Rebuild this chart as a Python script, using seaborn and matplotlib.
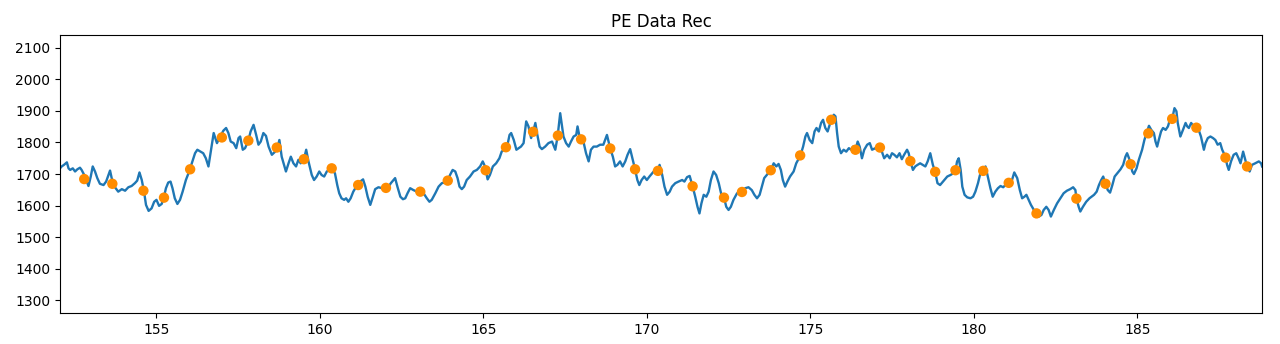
import matplotlib
matplotlib.use("Agg")
import matplotlib.pyplot as plt
import seaborn as sns
import pandas as pd

title = "PE Data Rec"

line_x = [
 152.05,152.10,152.17,152.26,152.31,152.36,152.44,152.51,152.58,152.66,152.71,152.79,152.85,152.92,152.99,153.05,
 153.12,153.19,153.27,153.38,153.46,153.53,153.58,153.63,153.73,153.83,153.94,154.04,154.14,154.24,154.34,154.41,
 154.48,154.55,154.62,154.68,154.76,154.85,154.93,155.00,155.08,155.16,155.23,155.29,155.36,155.43,155.49,155.56,
 155.64,155.72,155.80,155.90,156.00,156.10,156.18,156.25,156.35,156.43,156.51,156.59,
 156.75,156.85,156.95,157.05,157.13,157.20,157.27,157.36,157.44,157.51,157.56,157.64,157.71,157.81,157.88,157.97,
 158.05,158.12,158.19,158.27,158.35,158.43,158.53,158.63,158.70,158.76,158.83,158.90,158.96,159.04,159.11,159.19,
 159.27,159.34,159.41,159.51,159.58,159.65,159.75,159.82,159.90,159.98,160.05,160.13,160.21,160.29,160.36,160.46,
 160.53,160.59,160.66,160.74,160.80,160.87,160.94,161.02,161.10,
 161.23,161.32,161.39,161.46,161.54,161.62,161.69,161.79,161.90,162.02,162.10,162.17,162.25,162.30,162.37,162.46,
 162.54,162.61,162.68,162.76,162.86,162.97,163.07,163.17,163.27,163.35,163.42,163.53,163.63,163.73,163.83,163.91,
 163.98,164.06,164.14,164.21,164.27,164.34,164.41,164.49,164.59,164.70,164.80,164.90,164.98,165.05,165.13,165.20,
 165.29,165.39,165.49,165.56,165.63,
 165.72,165.80,165.85,165.93,166.01,166.08,166.15,166.23,166.31,166.38,166.46,166.52,166.59,166.64,166.72,166.79,
 166.89,166.99,167.10,167.20,167.27,167.35,167.40,167.45,167.53,167.61,167.68,167.76,167.84,167.88,167.94,167.99,
 168.06,168.14,168.22,168.29,168.37,168.47,168.57,168.67,168.78,168.83,168.88,168.96,169.03,169.10,169.18,169.26,
 169.34,169.41,169.49,169.57,169.64,169.71,169.77,169.84,169.92,170.00,170.08,
 170.21,170.34,170.39,170.47,170.54,170.62,170.70,170.77,170.87,170.97,171.08,171.15,171.23,171.31,171.40,171.48,
 171.55,171.61,171.67,171.74,171.82,171.89,171.96,172.04,172.12,172.20,172.27,172.36,172.43,172.50,172.57,172.65,
 172.76,172.91,173.01,173.11,173.21,173.29,173.37,173.45,173.52,173.59,173.67,173.79,173.88,173.96,174.03,174.10,
 174.16,174.23,174.30,174.38,174.49,174.57,
 174.70,174.78,174.85,174.90,174.98,175.06,175.13,175.19,175.26,175.33,175.39,175.46,175.53,175.64,175.72,175.77,
 175.82,175.87,175.94,176.02,176.10,176.18,176.25,176.31,176.38,176.45,176.51,176.58,176.65,176.74,176.82,176.89,
 176.99,177.06,177.13,177.19,177.26,177.35,177.43,177.50,177.57,177.65,177.73,177.80,177.87,177.96,178.01,178.06,
 178.14,178.21,178.28,178.36,178.44,178.52,178.59,178.67,178.75,178.82,178.89,178.97,179.06,
 179.19,179.29,179.37,179.44,179.49,179.54,179.60,179.65,179.72,179.80,179.90,179.98,180.05,180.13,180.19,180.29,
 180.36,180.43,180.51,180.58,180.66,180.74,180.82,180.90,180.97,181.07,181.17,181.24,181.33,181.41,181.48,181.55,
 181.61,181.68,181.75,181.84,181.92,181.99,182.07,182.14,182.22,182.29,182.36,182.45,182.55,182.65,182.75,182.85,
 182.95,183.04,183.11,183.14,183.21,183.26,183.34,183.44,183.54,
 183.68,183.76,183.83,183.90,183.96,184.03,184.10,184.17,184.24,184.31,184.39,184.49,184.57,184.64,184.69,184.75,
 184.80,184.85,184.90,184.98,185.05,185.15,185.22,185.29,185.36,185.43,185.51,185.56,185.61,185.66,185.73,185.79,
 185.87,185.94,186.00,186.07,186.14,186.20,186.24,186.32,186.40,186.48,186.53,186.58,186.65,186.73,186.81,186.88,
 186.95,187.04,187.09,187.16,187.24,187.32,187.39,187.46,187.54,187.60,187.65,187.70,187.75,187.80,187.87,187.95,
 188.03,188.10,188.16,188.24,188.28,188.36,188.44,188.51,188.61,188.72,188.79,188.82,
]

line_y = [
 1718,1724,1729,1737,1718,1713,1718,1708,1715,1720,1713,1697,1681,1662,1692,1724,
 1708,1687,1669,1665,1676,1697,1711,1687,1658,1644,1652,1647,1658,1662,1671,1679,
 1705,1681,1644,1602,1583,1591,1612,1618,1599,1605,1628,1655,1673,1676,1655,1623,
 1605,1618,1644,1681,1708,1740,1766,1777,1771,1766,1750,1724,
 1830,1798,1819,1838,1846,1830,1803,1798,1782,1814,1819,1777,1782,1806,1835,1856,
 1824,1793,1803,1830,1821,1787,1761,1771,1784,1808,1755,1729,1708,1734,1755,1734,
 1724,1745,1734,1747,1777,1740,1697,1681,1692,1708,1697,1692,1708,1713,1718,1702,
 1665,1639,1623,1618,1623,1612,1623,1644,1658,
 1676,1683,1660,1628,1602,1628,1652,1658,1655,1656,1660,1671,1681,1687,1660,1628,
 1620,1623,1639,1655,1649,1644,1644,1639,1623,1612,1618,1639,1660,1671,1673,1679,
 1697,1713,1708,1687,1660,1652,1660,1681,1692,1708,1713,1724,1740,1724,1683,1697,
 1724,1734,1750,1771,1777,
 1784,1824,1830,1808,1777,1782,1787,1798,1867,1851,1814,1834,1862,1830,1787,1779,
 1787,1798,1803,1777,1819,1893,1856,1819,1798,1787,1803,1819,1824,1851,1819,1810,
 1803,1766,1740,1777,1787,1787,1793,1793,1824,1803,1781,1755,1724,1729,1740,1724,
 1740,1761,1779,1745,1715,1681,1665,1681,1692,1681,1692,
 1708,1710,1729,1697,1660,1634,1644,1660,1671,1676,1681,1676,1690,1694,1661,1628,
 1596,1575,1607,1634,1628,1644,1681,1708,1697,1671,1639,1625,1596,1586,1596,1618,
 1639,1643,1655,1658,1649,1634,1623,1634,1660,1687,1697,1712,1734,1724,1732,1713,
 1681,1660,1676,1692,1708,1734,
 1759,1787,1819,1830,1808,1798,1835,1846,1835,1862,1872,1846,1835,1872,1888,1883,
 1830,1787,1766,1777,1771,1782,1777,1787,1777,1803,1787,1750,1777,1793,1798,1777,
 1782,1777,1784,1771,1750,1761,1750,1766,1761,1753,1766,1747,1761,1777,1766,1741,
 1713,1724,1729,1734,1729,1724,1740,1766,1729,1707,1671,1665,1676,
 1692,1697,1702,1712,1740,1750,1713,1660,1634,1626,1623,1628,1644,1671,1697,1710,
 1724,1692,1655,1628,1644,1655,1662,1658,1665,1672,1681,1705,1687,1649,1623,1628,
 1634,1618,1602,1586,1575,1565,1570,1586,1596,1586,1565,1586,1607,1623,1639,1647,
 1652,1658,1649,1622,1596,1581,1596,1612,1623,
 1634,1644,1665,1681,1692,1669,1649,1641,1665,1692,1702,1715,1729,1755,1766,1750,
 1731,1708,1700,1718,1745,1777,1808,1830,1853,1840,1830,1803,1787,1808,1835,1846,
 1840,1851,1872,1875,1909,1899,1862,1819,1840,1862,1851,1846,1862,1851,1847,1840,
 1819,1777,1798,1814,1819,1814,1808,1793,1798,1777,1766,1752,1729,1713,1740,1761,
 1766,1750,1734,1771,1755,1724,1708,1729,1734,1740,1734,1724,
]

dot_x = [152.79,153.65,154.60,155.23,156.03,157.00,157.81,158.68,159.51,160.36,161.17,
         162.02,163.07,163.91,165.07,165.69,166.52,167.28,167.99,168.88,169.64,170.34,
         171.40,172.36,172.91,173.79,174.69,175.64,176.38,177.13,178.06,178.82,179.44,
         180.29,181.07,181.92,183.14,184.03,184.80,185.34,186.07,186.81,187.70,188.36]
dot_y = [1684,1669,1647,1625,1715,1816,1806,1784,1747,1718,1665,
         1656,1644,1679,1712,1785,1834,1822,1810,1781,1715,1710,
         1661,1625,1643,1712,1759,1872,1777,1784,1741,1707,1712,
         1710,1672,1575,1622,1669,1731,1829,1875,1847,1752,1724]

line_df = pd.DataFrame({"t": line_x, "v": line_y})
dot_df = pd.DataFrame({"t": dot_x, "v": dot_y})

fig = plt.figure(figsize=(12.8, 3.44), dpi=100)
ax = fig.add_axes([0.0469, 0.0901, 0.9391, 0.8081])

sns.lineplot(data=line_df, x="t", y="v", ax=ax, sort=False, estimator=None,
             color="#1f77b4", linewidth=1.7)
sns.scatterplot(data=dot_df, x="t", y="v", ax=ax, color="#ff8c00",
                s=56, linewidth=0, edgecolor="none", zorder=3)

ax.set_xlim(line_x[0], line_x[-1])
ax.set_ylim(1259, 2141)
ax.set_yticks([1300, 1400, 1500, 1600, 1700, 1800, 1900, 2000, 2100])
ax.set_xticks([155, 160, 165, 170, 175, 180, 185])
ax.set_xlabel("")
ax.set_ylabel("")
ax.set_title(title, fontsize=12)
ax.tick_params(labelsize=10)

fig.savefig("out.png", dpi=100)
